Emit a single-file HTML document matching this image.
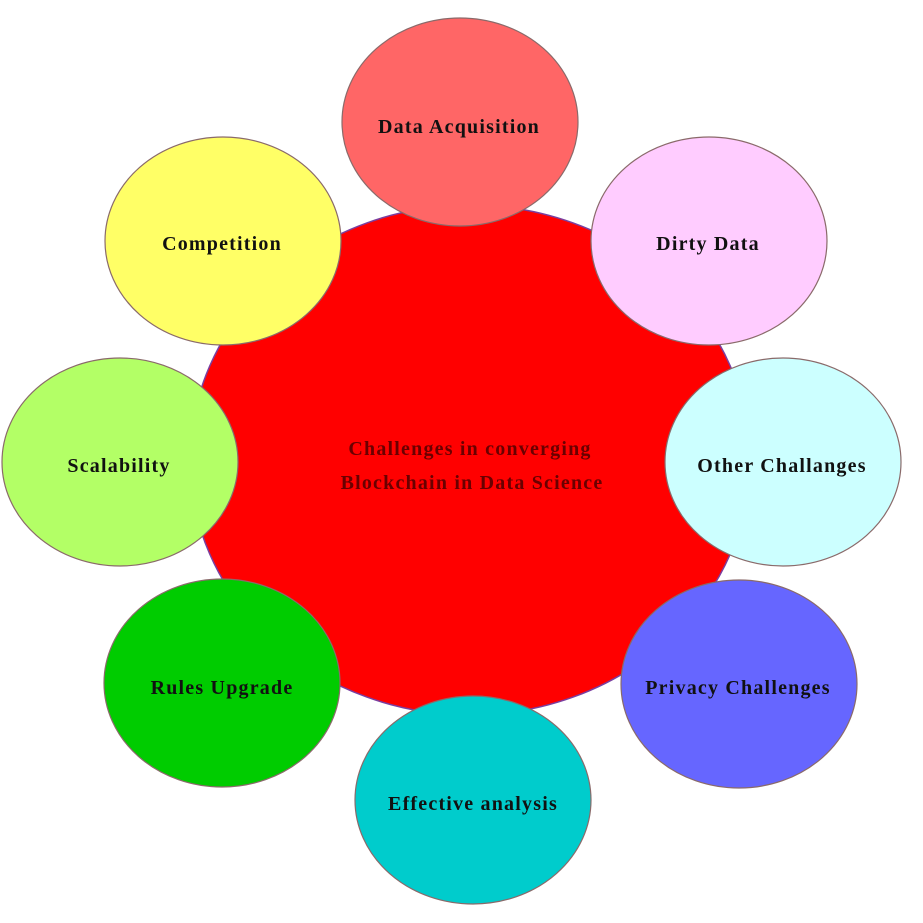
<!DOCTYPE html>
<html><head><style>
html,body{margin:0;padding:0;background:#fff;}
svg{display:block;}
text{font-family:"Liberation Serif",serif;font-weight:bold;font-size:20px;letter-spacing:1.2px;fill:#111;text-anchor:middle;}
</style></head><body>
<svg width="923" height="923" viewBox="0 0 923 923">
<ellipse cx="470" cy="460" rx="280" ry="255" fill="#ff0000" stroke="#7a3fa0" stroke-width="1.5"/>
<text x="470" y="455" style="fill:#6a0000">Challenges in converging</text>
<text x="472" y="489" style="fill:#6a0000">Blockchain in Data Science</text>
<g stroke="#8a6a6a" stroke-width="1.2">
<ellipse cx="460" cy="122" rx="118" ry="104" fill="#ff6666"/>
<ellipse cx="709" cy="241" rx="118" ry="104" fill="#ffccff"/>
<ellipse cx="783" cy="462" rx="118" ry="104" fill="#ccffff"/>
<ellipse cx="739" cy="684" rx="118" ry="104" fill="#6666ff"/>
<ellipse cx="473" cy="800" rx="118" ry="104" fill="#00cccc"/>
<ellipse cx="222" cy="683" rx="118" ry="104" fill="#00cc00"/>
<ellipse cx="120" cy="462" rx="118" ry="104" fill="#b3ff66"/>
<ellipse cx="223" cy="241" rx="118" ry="104" fill="#ffff66"/>
</g>
<text x="459" y="133">Data Acquisition</text>
<text x="708" y="250">Dirty Data</text>
<text x="782" y="472">Other Challanges</text>
<text x="738" y="694">Privacy Challenges</text>
<text x="473" y="810">Effective analysis</text>
<text x="222" y="694">Rules Upgrade</text>
<text x="119" y="472">Scalability</text>
<text x="222" y="250">Competition</text>
</svg>
</body></html>
